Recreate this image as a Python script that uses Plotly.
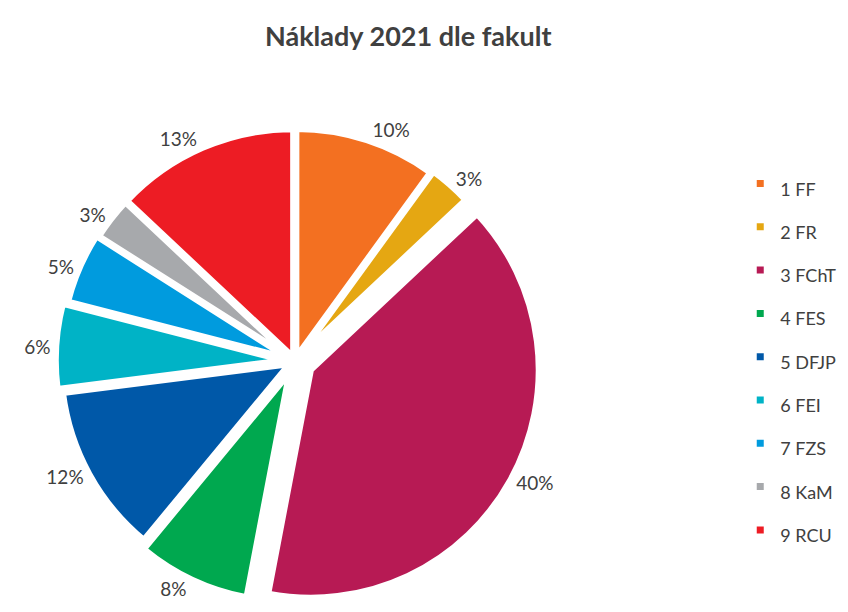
import plotly.graph_objects as go

# Costs 2021 by faculty (share in %)
faculties = ["1 FF", "2 FR", "3 FChT", "4 FES", "5 DFJP", "6 FEI", "7 FZS", "8 KaM", "9 RCU"]
shares = [10, 3, 40, 8, 12, 6, 5, 3, 13]
colors = ["#F37021", "#E5A712", "#B71A54", "#00A84F", "#0058A8",
          "#00B3C6", "#009BDE", "#A7A9AC", "#ED1C24"]
pulls = [0.02, 0.03, 0.08, 0.06, 0.03, 0.05, 0.03, 0.02, 0.02]

# legend rows are spaced by the legend font size, the text itself is drawn smaller
legend_labels = [f"<span style='font-size:18px'>{f}</span>" for f in faculties]

fig = go.Figure(go.Pie(
    labels=legend_labels,
    values=shares,
    customdata=faculties,
    sort=False,
    direction="clockwise",
    rotation=0,
    pull=pulls,
    marker=dict(colors=colors, line=dict(color="white", width=6)),
    texttemplate="%{percent:.0%}",
    textposition="outside",
    textfont=dict(size=19, color="#404040"),
    domain=dict(x=[0.0483, 0.6285], y=[0.0196, 0.8265]),
    hovertemplate="%{customdata}: %{percent:.0%}<extra></extra>",
))

fig.update_layout(
    width=848, height=612,
    margin=dict(l=0, r=0, t=0, b=0, autoexpand=False),
    paper_bgcolor="white",
    font=dict(family="Lato, Open Sans, sans-serif", color="#404040"),
    title=dict(text="<b>Náklady 2021 dle fakult</b>", x=0.472, xanchor="center",
               y=0.954, yanchor="middle", font=dict(size=27, color="#404040")),
    legend=dict(x=0.8635, xanchor="left", y=0.43, yanchor="middle",
                font=dict(size=31, color="#404040"), itemwidth=30),
    showlegend=True,
)

fig.write_html("out.html")
